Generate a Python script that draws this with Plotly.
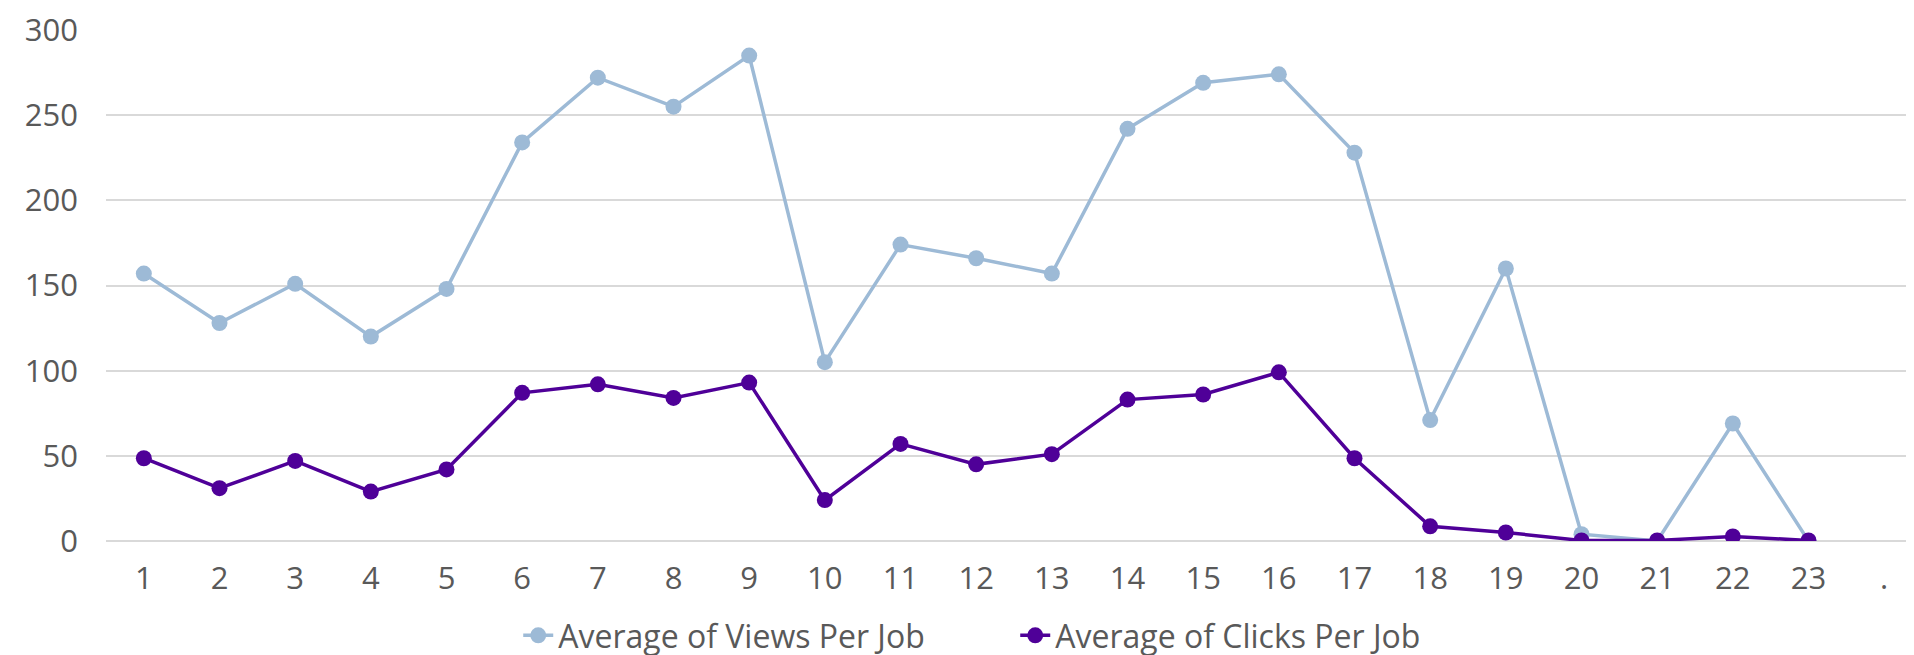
"""
Average views and clicks per job, by category.
"""
import plotly.graph_objects as go

COLORS = {
    "views": "#9dbad6",
    "clicks": "#4f0098",
    "grid": "#d9d9d9",
    "text": "#595959",
}

categories = [str(i) for i in range(1, 24)] + ["."]

views_per_job = [157, 128, 151, 120, 148, 234, 272, 255, 285, 105, 174, 166,
                 157, 242, 269, 274, 228, 71, 160, 4, 0, 69, 0, None]
clicks_per_job = [48.6, 31, 47, 29, 42, 87, 92, 84, 93, 24, 57, 45,
                  51, 83, 86, 99, 48.6, 8.6, 5, 0.3, 0.3, 2.7, 0.3, None]

fig = go.Figure()

fig.add_trace(go.Scatter(
    x=categories,
    y=views_per_job,
    name="Average of Views Per Job",
    mode="lines+markers",
    line=dict(color=COLORS["views"], width=3.5),
    marker=dict(color=COLORS["views"], size=16),
))

fig.add_trace(go.Scatter(
    x=categories,
    y=clicks_per_job,
    name="Average of Clicks Per Job",
    mode="lines+markers",
    line=dict(color=COLORS["clicks"], width=3.5),
    marker=dict(color=COLORS["clicks"], size=16),
))

fig.update_layout(
    width=1914,
    height=655,
    margin=dict(l=98, r=0, t=22, b=113),
    paper_bgcolor="white",
    plot_bgcolor="white",
    font=dict(family="Open Sans, sans-serif", size=31, color=COLORS["text"]),
    showlegend=True,
    legend=dict(
        orientation="h",
        x=0.227, xanchor="left",
        y=-0.185, yanchor="middle",
        font=dict(size=32),
        entrywidth=452,
        entrywidthmode="pixels",
        traceorder="normal",
    ),
    xaxis=dict(
        type="category",
        categoryorder="array",
        categoryarray=categories,
        range=[-0.5, len(categories) - 0.5],
        showgrid=False,
        showline=False,
        zeroline=False,
        ticks="",
        ticklabelstandoff=16,
        automargin=False,
    ),
    yaxis=dict(
        range=[0, 300],
        dtick=50,
        showgrid=True,
        gridcolor=COLORS["grid"],
        gridwidth=1.5,
        zeroline=True,
        zerolinecolor=COLORS["grid"],
        zerolinewidth=1.5,
        showline=False,
        ticks="",
        ticklabelstandoff=27,
        ticklabeloverflow="allow",
        automargin=False,
    ),
)

fig.write_html("out.html")
